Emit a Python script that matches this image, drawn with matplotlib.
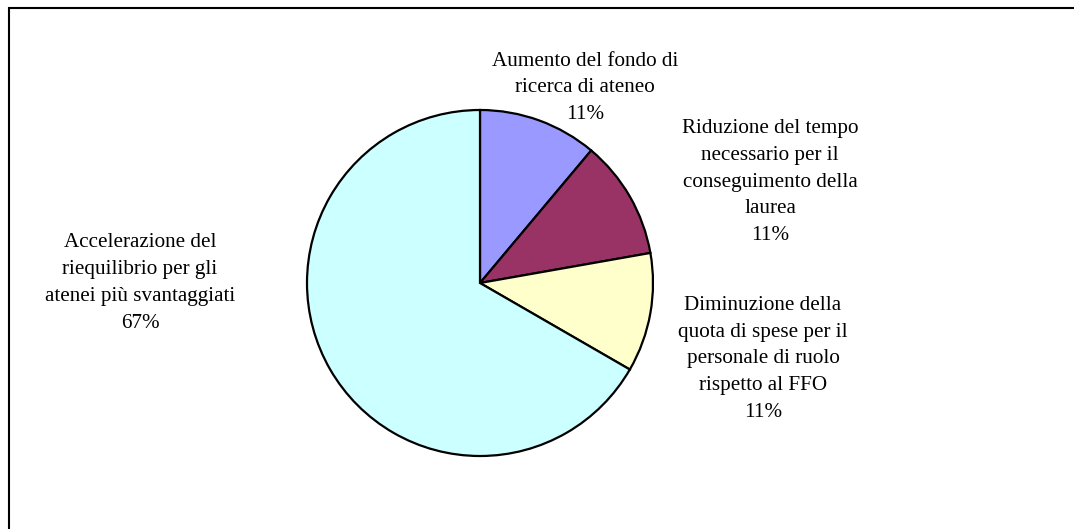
import matplotlib
matplotlib.use("Agg")
from matplotlib import pyplot as plt
from matplotlib.patches import Rectangle

# data
labels = [
    "Aumento del fondo di\nricerca di ateneo",
    "Riduzione del tempo\nnecessario per il\nconseguimento della\nlaurea",
    "Diminuzione della\nquota di spese per il\npersonale di ruolo\nrispetto al FFO",
    "Accelerazione del\nriequilibrio per gli\natenei più svantaggiati",
]
values = [1, 1, 1, 6]
colors = ["#9999FF", "#993366", "#FFFFCC", "#CCFFFF"]

# label centres in pixels (x, y from top)
label_pos = [(585, 88), (770, 182), (763, 359), (140, 283)]

W, H = 1074, 529
plt.rcParams["font.family"] = ["Liberation Serif", "DejaVu Serif"]
fig = plt.figure(figsize=(W / 100, H / 100), dpi=100)
ax = fig.add_axes([0, 0, 1, 1])

total = sum(values)
texts = [f"{lab}\n{round(v * 100 / total):.0f}%" for lab, v in zip(labels, values)]

ax.pie(values, colors=colors, startangle=90, counterclock=False,
       center=(480, H - 283), radius=173, frame=True,
       wedgeprops=dict(edgecolor="black", linewidth=1.6))
ax.set_xlim(0, W)
ax.set_ylim(0, H)
ax.set_aspect("equal")
ax.axis("off")

for t, (x, y) in zip(texts, label_pos):
    ax.text(x, H - y, t, ha="center", va="center", fontsize=15.2,
            linespacing=1.56, color="black")

# outer chart frame (only top/left visible in the crop)
fig.patches.append(Rectangle((8.5 / W, 0 - 0.05), 1.2, (H - 7.5) / H + 0.05,
                             transform=fig.transFigure, fill=False,
                             edgecolor="black", linewidth=1.5))

fig.savefig("out.png", dpi=100)
